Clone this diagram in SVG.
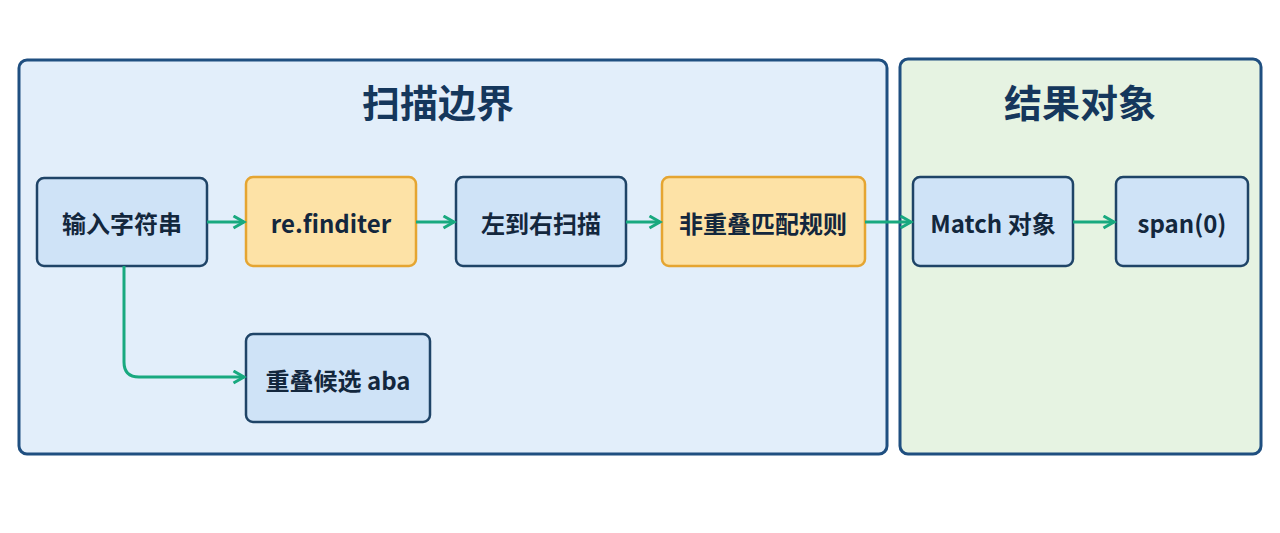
<svg xmlns="http://www.w3.org/2000/svg" width="1280" height="533" viewBox="0 0 1280 533">
<style>
.t{font-family:"Noto Sans CJK SC","Noto Sans",sans-serif;font-weight:700;fill:#13273d;text-anchor:middle;dominant-baseline:central}
.n{font-size:24px}
.h{font-size:38px;fill:#15375c}
.b{fill:#cfe3f7;stroke:#1f4467;stroke-width:2.5}
.o{fill:#fde2a6;stroke:#e5a531;stroke-width:2.5}
.c{fill:none;stroke:#18a97f;stroke-width:3;marker-end:url(#a)}
</style>
<defs><marker id="a" viewBox="0 0 10 10" refX="8" refY="5" markerWidth="5" markerHeight="5" orient="auto"><path d="M1,1L8,5L1,9" fill="none" stroke="#18a97f" stroke-width="2"/></marker></defs>
<rect width="1280" height="533" fill="#fff"/>
<g id="scan"><rect x="19" y="60" width="868" height="394" rx="8" fill="#e2eefa" stroke="#1f4f80" stroke-width="3"/><text class="t h" x="438" y="100">扫描边界</text></g>
<g id="result"><rect x="900" y="59" width="361" height="395" rx="8" fill="#e6f3e2" stroke="#1f4f80" stroke-width="3"/><text class="t h" x="1080" y="100">结果对象</text></g>
<g id="input"><rect class="b" x="37" y="178" width="170" height="88" rx="7"/><text class="t n" x="122" y="222">输入字符串</text></g>
<g id="finditer"><rect class="o" x="246" y="177" width="170" height="89" rx="7"/><text class="t n" x="331" y="222">re.finditer</text></g>
<g id="ltr"><rect class="b" x="456" y="177" width="170" height="89" rx="7"/><text class="t n" x="541" y="222">左到右扫描</text></g>
<g id="nonoverlap"><rect class="o" x="662" y="177" width="203" height="89" rx="7"/><text class="t n" x="763" y="222">非重叠匹配规则</text></g>
<g id="match"><rect class="b" x="913" y="177" width="160" height="89" rx="7"/><text class="t n" x="993" y="222">Match 对象</text></g>
<g id="span"><rect class="b" x="1116" y="177" width="132" height="89" rx="7"/><text class="t n" x="1182" y="222">span(0)</text></g>
<g id="overlap"><rect class="b" x="246" y="334" width="184" height="88" rx="7"/><text class="t n" x="338" y="379">重叠候选 aba</text></g>
<g id="connectors">
<path class="c" d="M207,222H244"/>
<path class="c" d="M416,222H454"/>
<path class="c" d="M626,222H660"/>
<path class="c" d="M865,222H911"/>
<path class="c" d="M1073,222H1114"/>
<path class="c" d="M124,266V362Q124,377 139,377H244"/>
</g>
</svg>
